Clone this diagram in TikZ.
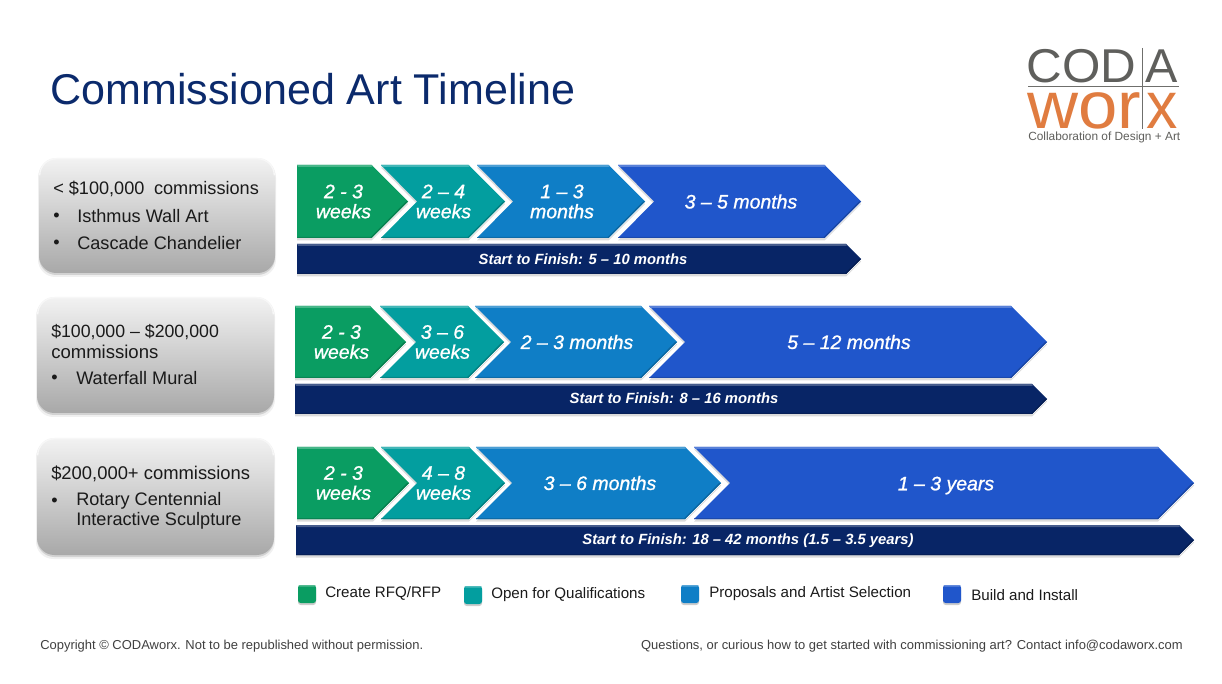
\documentclass[tikz,border=0pt]{standalone}
\usepackage{fontspec}
\setmainfont{Liberation Sans}
\newfontfamily\stepfont[FakeBold=1]{Liberation Sans}
\definecolor{cgreen}{HTML}{0A9D62}
\definecolor{cteal}{HTML}{039E9F}
\definecolor{cblue}{HTML}{0F7EC6}
\definecolor{cdark}{HTML}{2056CB}
\definecolor{cnavy}{HTML}{082566}
\definecolor{ctitle}{HTML}{0B2A6C}
\definecolor{clogo}{HTML}{5F5F5C}
\definecolor{corange}{HTML}{E07C40}
\definecolor{ctext}{HTML}{1A1A1A}
\tikzset{
 steptext/.style={text=white,font=\fontsize{14.6}{15}\selectfont\stepfont\itshape,align=center,inner sep=0pt},
 bartext/.style={text=white,font=\fontsize{11.1}{12}\selectfont\itshape\bfseries,inner sep=0pt},
 boxtext/.style={text=ctext,font=\fontsize{13.6}{15.6}\selectfont,anchor=west,inner sep=0pt},
 legtext/.style={text=ctext,font=\fontsize{11.35}{13}\selectfont,anchor=west,inner sep=0pt},
 foottext/.style={text=black!75,font=\fontsize{9.72}{11}\selectfont,inner sep=0pt},
 logoline/.style={draw=clogo!90,line width=0.7pt},
 logoc/.style={text=clogo,inner sep=0pt,anchor=base west},
 logow/.style={text=corange,inner sep=0pt,anchor=base west}
}
% #1 x left, #2 notch depth, #3 x tip, #4 top, #5 bottom, #6 colour
\newcommand{\chev}[6]{%
 \pgfmathsetmacro{\ymid}{(#4+#5)/2}%
 \pgfmathsetmacro{\dd}{(#5-#4)/2}%
 \pgfmathsetmacro{\xsh}{#3-\dd}%
 \pgfmathsetmacro{\xn}{#1+#2}%
 \fill[black,opacity=.14] (#1,#4+2.5) -- (\xsh,#4+2.5) -- (#3,\ymid+2.5) -- (\xsh,#5+2.5) -- (#1,#5+2.5) -- (\xn,\ymid+2.5) -- cycle;
 \draw[white,line width=1.2pt,line join=miter] (\xsh,#4) -- (#3,\ymid) -- (\xsh,#5);
 \fill[#6] (#1,#4) -- (\xsh,#4) -- (#3,\ymid) -- (\xsh,#5) -- (#1,#5) -- (\xn,\ymid) -- cycle;
 \fill[#6!75!white] (#1,#4) -- (\xsh,#4) -- (\xsh+1.2,#4+1.2) -- (\xsh-.4,#4+2) -- (#1+1.2,#4+2) -- cycle;
 \fill[#6!85!black] (#1,#5) -- (\xsh,#5) -- (\xsh+.6,#5-1) -- (#1+.8,#5-1) -- cycle;
 \fill[#6!80!black] (\xsh,#5) -- (#3,\ymid) -- (#3-1.8,\ymid) -- (\xsh-.6,#5-1) -- cycle;
}
\begin{document}
\begin{tikzpicture}[x=0.75pt,y=-0.75pt]
\useasboundingbox (0,0) rectangle (1222,684);
\fill[white] (0,0) rectangle (1222,684);
\node[text=ctitle,font=\fontsize{32.3}{36}\selectfont,anchor=base west,inner sep=0pt] (title) at (50,105) {Commissioned Art Timeline};

% logo
\node[logoc,font=\fontsize{35.6}{40}\selectfont,xscale=1.04] (logoa) at (1026.5,83) {COD};
\node[logoc,font=\fontsize{35.6}{40}\selectfont,xscale=1.02] (logob) at (1145,83) {A};
\node[logow,font=\fontsize{50}{60}\selectfont,xscale=1.06] (logoc) at (1027,128.5) {wor};
\node[logow,font=\fontsize{50}{60}\selectfont,xscale=.94] (logod) at (1146,128.5) {x};
\draw[logoline] (1028,86.5) -- (1179,86.5);
\draw[logoline] (1142.5,48) -- (1142.5,129);
\node[text=clogo,font=\fontsize{8.9}{10}\selectfont,anchor=base west,inner sep=0pt] (logoe) at (1028,140.5) {Collaboration of Design + Art};

% left boxes
\foreach \xa/\xb/\ya/\yb in {39/275/158/273,37/274/297/413,37/274/438/555}{
 \fill[black,opacity=.06,rounded corners=13pt] (\xa-1,\ya+2) rectangle (\xb+1,\yb+4);
 \fill[black,opacity=.12,rounded corners=13pt] (\xa,\ya+2) rectangle (\xb,\yb+2);
 \shade[top color=black!5,bottom color=black!34,rounded corners=13pt] (\xa,\ya) rectangle (\xb,\yb);
 \draw[black!3,line width=1pt,rounded corners=12.5pt] (\xa+.7,\ya+17) -- (\xa+.7,\ya+.7) -- (\xb-.7,\ya+.7) -- (\xb-.7,\ya+17);
}
\node[boxtext] (a1) at (53,189) {< \$100,000\hspace{3.4pt} commissions};
\node[boxtext] (a2) at (53,217.5) {•};
\node[boxtext] (a3) at (77,216.2) {Isthmus Wall Art};
\node[boxtext] (a4) at (53,244.5) {•};
\node[boxtext] (a5) at (77,243.2) {Cascade Chandelier};

\node[boxtext,font=\fontsize{13.3}{15.6}\selectfont] (b1) at (51,332) {\$100,000 – \$200,000};
\node[boxtext,font=\fontsize{13.9}{15.6}\selectfont] (b2) at (51,352.2) {commissions};
\node[boxtext] (b3) at (51,379.5) {•};
\node[boxtext] (b4) at (76,378.2) {Waterfall Mural};

\node[boxtext,font=\fontsize{13.8}{15.6}\selectfont] (c1) at (51,474) {\$200,000+ commissions};
\node[boxtext] (c2) at (51,502) {•};
\node[boxtext] (c3) at (76,501) {Rotary Centennial};
\node[boxtext] (c4) at (76,521) {Interactive Sculpture};

% row 1
\chev{297}{0}{861}{244}{274}{cnavy}
\chev{618}{36}{861}{165}{238}{cdark}
\chev{477}{36}{645}{165}{238}{cblue}
\chev{381}{36}{505}{165}{238}{cteal}
\chev{297}{0}{408}{165}{238}{cgreen}
\node[steptext] (r1a) at (343.5,201.5) {2 - 3\\weeks};
\node[steptext] (r1b) at (443.5,201.5) {2 – 4\\weeks};
\node[steptext] (r1c) at (562,201.5) {1 – 3\\months};
\node[steptext] (r1d) at (741,201.5) {3 – 5 months};
\node[bartext] (r1e) at (583,259) {Start to Finish: 5 – 10 months};

% row 2
\chev{295}{0}{1047}{384}{414}{cnavy}
\chev{649}{36}{1047}{306}{378}{cdark}
\chev{475}{36}{677}{306}{378}{cblue}
\chev{380}{36}{504}{306}{378}{cteal}
\chev{295}{0}{406}{306}{378}{cgreen}
\node[steptext] (r2a) at (341.5,342) {2 - 3\\weeks};
\node[steptext] (r2b) at (442.5,342) {3 – 6\\weeks};
\node[steptext] (r2c) at (577,342) {2 – 3 months};
\node[steptext] (r2d) at (849,342) {5 – 12 months};
\node[bartext] (r2e) at (674,398) {Start to Finish: 8 – 16 months};

% row 3
\chev{296}{0}{1194}{525}{555}{cnavy}
\chev{694}{36}{1194}{447}{519}{cdark}
\chev{476}{36}{721}{447}{519}{cblue}
\chev{381}{36}{505}{447}{519}{cteal}
\chev{297}{0}{409}{447}{519}{cgreen}
\node[steptext] (r3a) at (343.5,483) {2 - 3\\weeks};
\node[steptext] (r3b) at (443.5,483) {4 – 8\\weeks};
\node[steptext] (r3c) at (600,483) {3 – 6 months};
\node[steptext] (r3d) at (946,485.5) {1 – 3 years};
\node[bartext] (r3e) at (748,540.5) {Start to Finish: 18 – 42 months (1.5 – 3.5 years)};

% legend
\foreach \xa/\ya/\col in {298/585/cgreen,464/586/cteal,681/585/cblue,943/585/cdark}{
 \fill[black,opacity=.2,rounded corners=2pt] (\xa,\ya+2) rectangle (\xa+18,\ya+20);
 \fill[\col,rounded corners=2pt] (\xa,\ya) rectangle (\xa+18,\ya+18);
 \fill[\col!70!white,rounded corners=1pt] (\xa+.5,\ya) rectangle (\xa+17.5,\ya+1.6);
}
\node[legtext] (l1) at (325,593.5) {Create RFQ/RFP};
\node[legtext] (l2) at (491,595) {Open for Qualifications};
\node[legtext] (l3) at (709,593.5) {Proposals and Artist Selection};
\node[legtext] (l4) at (971,595) {Build and Install};

% footer
\node[foottext,anchor=west] (f1) at (40,646.5) {Copyright © CODAworx. Not to be republished without permission.};
\node[foottext,anchor=east] (f2) at (1183,646.5) {Questions, or curious how to get started with commissioning art? Contact info@codaworx.com};
\end{tikzpicture}
\end{document}
